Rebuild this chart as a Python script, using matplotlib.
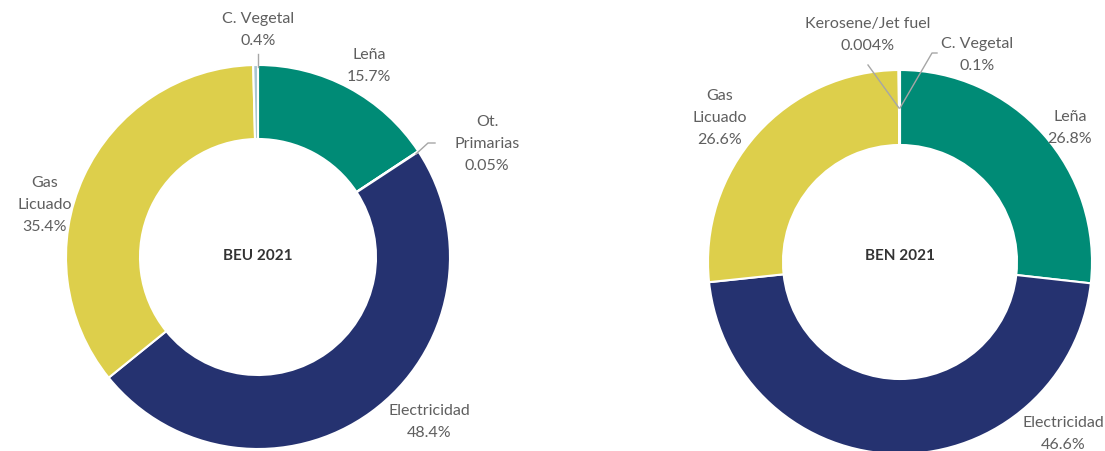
import matplotlib.pyplot as plt

plt.rcParams['font.family'] = ['Lato', 'DejaVu Sans']

# BEU 2021 (clockwise from 12 o'clock)
beu_labels = ['Leña', 'Ot. Primarias', 'Electricidad', 'Gas Licuado', 'C. Vegetal']
beu_values = [15.7, 0.05, 48.4, 35.4, 0.4]
beu_colors = ['#008b76', '#a8c5d1', '#253270', '#ddcf4b', '#a8c5d1']

# BEN 2021
ben_labels = ['Leña', 'Electricidad', 'Gas Licuado', 'Kerosene/Jet fuel', 'C. Vegetal']
ben_values = [26.8, 46.6, 26.6, 0.004, 0.1]
ben_colors = ['#008b76', '#253270', '#ddcf4b', '#a8c5d1', '#a8c5d1']

W, H = 1105, 451
fig = plt.figure(figsize=(W / 100, H / 100), dpi=100)
ax = fig.add_axes([0, 0, 1, 1])

def donut(vals, cols, cx, cy, r, w):
    ax.pie(vals, colors=cols, center=(cx, H - cy), radius=r, startangle=90,
           counterclock=False, normalize=True,
           wedgeprops=dict(width=w, edgecolor='white', linewidth=1.5))

donut(beu_values, beu_colors, 258, 257, 192, 74)
donut(ben_values, ben_colors, 900, 262, 192, 75)

ax.set_xlim(0, W)
ax.set_ylim(0, H)
ax.set_aspect('equal')
ax.axis('off')

tc = '#5f5f5f'
fs = 11.5

def lab(x, y, s, ha='center'):
    ax.text(x, H - y, s, ha=ha, va='center', fontsize=fs, color=tc, linespacing=1.7)

def line(xs, ys):
    ax.plot(xs, [H - y for y in ys], color='#a6a6a6', lw=1)

# left chart labels
lab(258, 30, 'C. Vegetal\n0.4%')
line([258, 258], [54, 67])
lab(369, 66, 'Leña\n15.7%')
lab(487, 144, 'Ot.\nPrimarias\n0.05%')
line([435, 428, 416], [143, 143, 154])
lab(45, 205, 'Gas\nLicuado\n35.4%')
lab(429, 422, 'Electricidad\n48.4%')
ax.text(258, H - 256, 'BEU 2021', ha='center', va='center', fontsize=11,
        fontweight='bold', color='#333333')

# right chart labels
lab(868, 35, 'Kerosene/Jet fuel\n0.004%')
line([868, 899], [65, 108])
lab(977, 55, 'C. Vegetal\n0.1%')
line([937, 932, 900], [53, 53, 108])
lab(720, 118, 'Gas\nLicuado\n26.6%')
lab(1070, 128, 'Leña\n26.8%')
lab(1063, 434, 'Electricidad\n46.6%')
ax.text(900, H - 256, 'BEN 2021', ha='center', va='center', fontsize=11,
        fontweight='bold', color='#333333')

fig.savefig('out.png', dpi=100)
